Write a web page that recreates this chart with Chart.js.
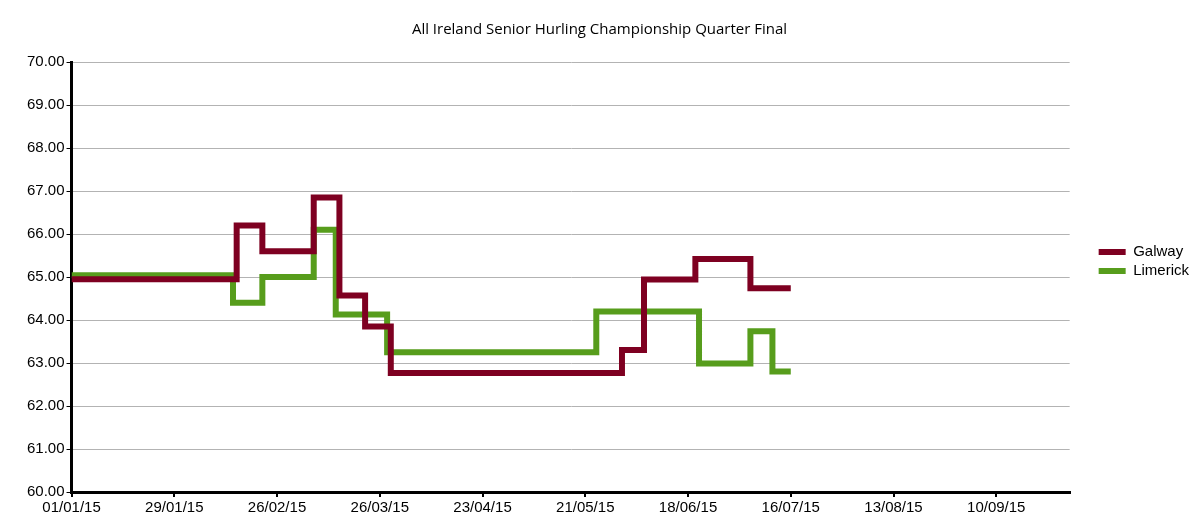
<!DOCTYPE html>
<html>
<head>
<meta charset="utf-8">
<script src="https://cdn.jsdelivr.net/npm/chart.js@4"></script>
<style>
  html, body { margin: 0; padding: 0; background: #fff; }
  #wrap { width: 1200px; height: 528px; }
</style>
</head>
<body>
<div id="wrap"><canvas id="myChart"></canvas></div>
<script>
const galwayDates = ['2015-01-01', '2015-02-15', '2015-02-22', '2015-03-08', '2015-03-15', '2015-03-22', '2015-03-29', '2015-05-31', '2015-06-06', '2015-06-20', '2015-07-05', '2015-07-16'];
const galwayValues = [64.95, 66.2, 65.6, 66.85, 64.57, 63.85, 62.77, 63.3, 64.94, 65.42, 64.74, 64.74];

const limerickDates = ['2015-01-01', '2015-02-14', '2015-02-22', '2015-03-08', '2015-03-14', '2015-03-28', '2015-05-24', '2015-06-21', '2015-07-05', '2015-07-11', '2015-07-16'];
const limerickValues = [65.04, 64.4, 65.0, 66.1, 64.13, 63.25, 64.2, 62.99, 63.74, 62.8, 62.8];

const tickDates = ['2015-01-01', '2015-01-29', '2015-02-26', '2015-03-26', '2015-04-23', '2015-05-21', '2015-06-18', '2015-07-16', '2015-08-13', '2015-09-10'];
const xStart = '2015-01-01';
const xEnd = '2015-09-30';

const DAY = 86400000;
function toDay(s) {
    return (Date.parse(s + 'T00:00:00Z') - Date.parse(xStart + 'T00:00:00Z')) / DAY;
}
function dayLabel(d) {
    const t = new Date(Date.parse(xStart + 'T00:00:00Z') + Math.round(d) * DAY);
    const dd = String(t.getUTCDate()).padStart(2, '0');
    const mm = String(t.getUTCMonth() + 1).padStart(2, '0');
    const yy = String(t.getUTCFullYear()).slice(2);
    return dd + '/' + mm + '/' + yy;
}
function points(dates, values) {
    return dates.map((d, i) => ({ x: toDay(d), y: values[i] }));
}

// push the legend a bit away from the plot, like the original
const legendShift = {
    id: 'legendShift',
    afterLayout(chart) {
        const l = chart.legend;
        if (l) { l.left += 25; l.right += 25; }
    }
};

const ctx = document.getElementById('myChart');

new Chart(ctx, {
    type: 'line',
    data: {
        datasets: [{
            label: 'Galway',
            data: points(galwayDates, galwayValues),
            borderColor: '#7e0021',
            backgroundColor: '#7e0021',
            borderWidth: 6,
            stepped: true,
            pointRadius: 0,
            fill: false
        }, {
            label: 'Limerick',
            data: points(limerickDates, limerickValues),
            borderColor: '#579d1c',
            backgroundColor: '#579d1c',
            borderWidth: 6,
            stepped: true,
            pointRadius: 0,
            fill: false
        }]
    },
    plugins: [legendShift],
    options: {
        responsive: true,
        maintainAspectRatio: false,
        animation: false,
        layout: {
            padding: { left: 25, right: 26, top: 4, bottom: 9 }
        },
        plugins: {
            title: {
                display: true,
                text: 'All Ireland Senior Hurling Championship Quarter Final',
                color: '#000',
                font: { family: 'Open Sans', size: 15, weight: 'normal' },
                padding: { top: 17, bottom: 23 }
            },
            legend: {
                position: 'right',
                labels: {
                    boxWidth: 27,
                    boxHeight: 6,
                    padding: 4,
                    color: '#000',
                    font: { family: 'Liberation Sans', size: 15 },
                    generateLabels: chart => Chart.defaults.plugins.legend.labels.generateLabels(chart)
                        .map(item => Object.assign(item, { lineWidth: 0 }))
                }
            },
            tooltip: { enabled: false }
        },
        scales: {
            x: {
                type: 'linear',
                min: toDay(xStart),
                max: toDay(xEnd),
                afterBuildTicks: axis => {
                    axis.ticks = tickDates.map(d => ({ value: toDay(d) }));
                },
                ticks: {
                    color: '#000',
                    padding: 2,
                    maxRotation: 0,
                    autoSkip: false,
                    font: { family: 'Liberation Sans', size: 15 },
                    callback: v => dayLabel(v)
                },
                grid: {
                    drawOnChartArea: false,
                    color: '#000',
                    lineWidth: 2,
                    tickLength: 5
                },
                border: { color: '#000', width: 3 }
            },
            y: {
                min: 60,
                max: 70,
                ticks: {
                    stepSize: 1,
                    color: '#000',
                    padding: 2,
                    font: { family: 'Liberation Sans', size: 15 },
                    callback: v => v.toFixed(2)
                },
                grid: {
                    color: '#b3b3b3',
                    tickColor: '#000',
                    tickLength: 5,
                    lineWidth: 1
                },
                border: { color: '#000', width: 3 }
            }
        }
    }
});
</script>
</body>
</html>
